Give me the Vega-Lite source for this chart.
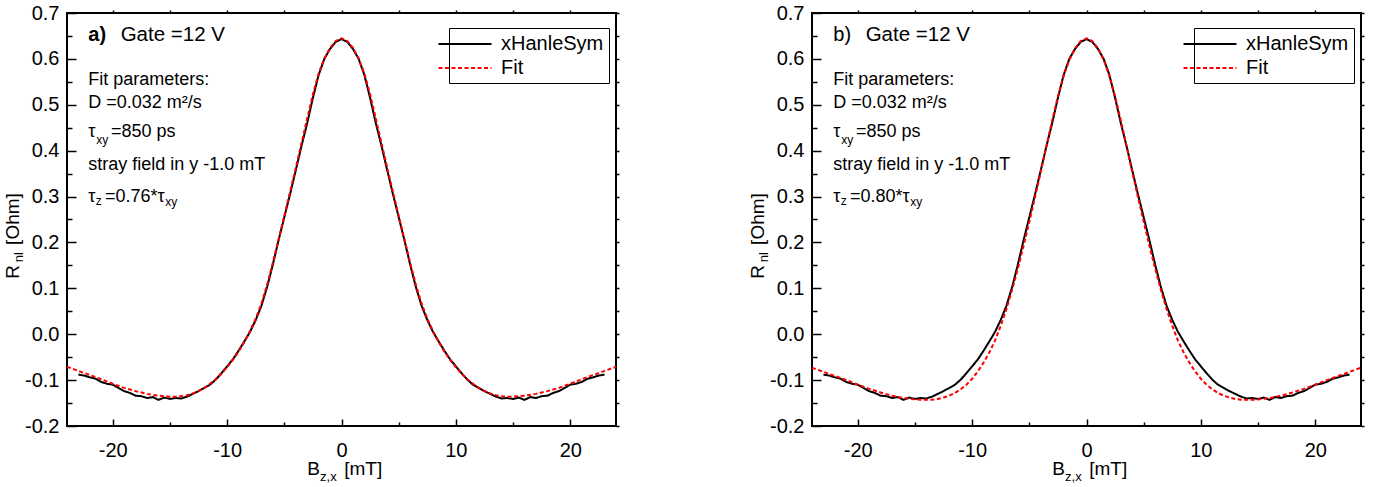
{
  "$schema": "https://vega.github.io/schema/vega-lite/v6.json",
  "padding": {"left": 2, "top": 2, "right": 5, "bottom": 5},
  "bounds": "flush",
  "spacing": 196,
  "config": {
    "font": "Liberation Sans",
    "view": {"stroke": "black", "strokeWidth": 2},
    "axis": {"grid": false, "domain": false, "labelFont": "Liberation Sans", "labelFontSize": 20, "labelColor": "black", "tickColor": "black", "tickWidth": 1.5, "labelFlush": false, "labelOverlap": false, "title": null},
    "text": {"font": "Liberation Sans", "color": "black"},
    "line": {"strokeWidth": 2}
  },
  "datasets": {
    "hanle": [
      {"B": -23, "R": -0.088, "series": "xHanleSym"}, {"B": -22.5, "R": -0.090, "series": "xHanleSym"}, {"B": -22, "R": -0.094, "series": "xHanleSym"}, {"B": -21.5, "R": -0.097, "series": "xHanleSym"}, {"B": -21, "R": -0.104, "series": "xHanleSym"}, {"B": -20.5, "R": -0.108, "series": "xHanleSym"}, {"B": -20, "R": -0.110, "series": "xHanleSym"}, {"B": -19.5, "R": -0.117, "series": "xHanleSym"}, {"B": -19, "R": -0.124, "series": "xHanleSym"}, {"B": -18.5, "R": -0.128, "series": "xHanleSym"}, {"B": -18, "R": -0.134, "series": "xHanleSym"}, {"B": -17.5, "R": -0.135, "series": "xHanleSym"}, {"B": -17, "R": -0.139, "series": "xHanleSym"}, {"B": -16.5, "R": -0.137, "series": "xHanleSym"}, {"B": -16, "R": -0.143, "series": "xHanleSym"}, {"B": -15.5, "R": -0.138, "series": "xHanleSym"}, {"B": -15, "R": -0.141, "series": "xHanleSym"}, {"B": -14.5, "R": -0.139, "series": "xHanleSym"}, {"B": -14, "R": -0.140, "series": "xHanleSym"}, {"B": -13.5, "R": -0.136, "series": "xHanleSym"}, {"B": -13, "R": -0.130, "series": "xHanleSym"}, {"B": -12.5, "R": -0.124, "series": "xHanleSym"}, {"B": -12, "R": -0.117, "series": "xHanleSym"}, {"B": -11.5, "R": -0.110, "series": "xHanleSym"}, {"B": -11, "R": -0.099, "series": "xHanleSym"}, {"B": -10.5, "R": -0.085, "series": "xHanleSym"}, {"B": -10, "R": -0.070, "series": "xHanleSym"}, {"B": -9.5, "R": -0.055, "series": "xHanleSym"}, {"B": -9, "R": -0.036, "series": "xHanleSym"}, {"B": -8.5, "R": -0.016, "series": "xHanleSym"}, {"B": -8, "R": 0.005, "series": "xHanleSym"}, {"B": -7.5, "R": 0.031, "series": "xHanleSym"}, {"B": -7, "R": 0.062, "series": "xHanleSym"}, {"B": -6.5, "R": 0.103, "series": "xHanleSym"}, {"B": -6, "R": 0.152, "series": "xHanleSym"}, {"B": -5.5, "R": 0.205, "series": "xHanleSym"}, {"B": -5, "R": 0.255, "series": "xHanleSym"}, {"B": -4.5, "R": 0.305, "series": "xHanleSym"}, {"B": -4, "R": 0.357, "series": "xHanleSym"}, {"B": -3.5, "R": 0.410, "series": "xHanleSym"}, {"B": -3, "R": 0.460, "series": "xHanleSym"}, {"B": -2.5, "R": 0.515, "series": "xHanleSym"}, {"B": -2, "R": 0.565, "series": "xHanleSym"}, {"B": -1.5, "R": 0.600, "series": "xHanleSym"}, {"B": -1, "R": 0.622, "series": "xHanleSym"}, {"B": -0.5, "R": 0.637, "series": "xHanleSym"}, {"B": 0, "R": 0.643, "series": "xHanleSym"},
      {"B": 0.5, "R": 0.637, "series": "xHanleSym"}, {"B": 1, "R": 0.622, "series": "xHanleSym"}, {"B": 1.5, "R": 0.600, "series": "xHanleSym"}, {"B": 2, "R": 0.565, "series": "xHanleSym"}, {"B": 2.5, "R": 0.515, "series": "xHanleSym"}, {"B": 3, "R": 0.460, "series": "xHanleSym"}, {"B": 3.5, "R": 0.410, "series": "xHanleSym"}, {"B": 4, "R": 0.357, "series": "xHanleSym"}, {"B": 4.5, "R": 0.305, "series": "xHanleSym"}, {"B": 5, "R": 0.255, "series": "xHanleSym"}, {"B": 5.5, "R": 0.205, "series": "xHanleSym"}, {"B": 6, "R": 0.152, "series": "xHanleSym"}, {"B": 6.5, "R": 0.103, "series": "xHanleSym"}, {"B": 7, "R": 0.062, "series": "xHanleSym"}, {"B": 7.5, "R": 0.031, "series": "xHanleSym"}, {"B": 8, "R": 0.005, "series": "xHanleSym"}, {"B": 8.5, "R": -0.016, "series": "xHanleSym"}, {"B": 9, "R": -0.036, "series": "xHanleSym"}, {"B": 9.5, "R": -0.055, "series": "xHanleSym"}, {"B": 10, "R": -0.070, "series": "xHanleSym"}, {"B": 10.5, "R": -0.085, "series": "xHanleSym"}, {"B": 11, "R": -0.099, "series": "xHanleSym"}, {"B": 11.5, "R": -0.110, "series": "xHanleSym"}, {"B": 12, "R": -0.117, "series": "xHanleSym"}, {"B": 12.5, "R": -0.124, "series": "xHanleSym"}, {"B": 13, "R": -0.130, "series": "xHanleSym"}, {"B": 13.5, "R": -0.136, "series": "xHanleSym"}, {"B": 14, "R": -0.140, "series": "xHanleSym"}, {"B": 14.5, "R": -0.139, "series": "xHanleSym"}, {"B": 15, "R": -0.141, "series": "xHanleSym"}, {"B": 15.5, "R": -0.138, "series": "xHanleSym"}, {"B": 16, "R": -0.143, "series": "xHanleSym"}, {"B": 16.5, "R": -0.137, "series": "xHanleSym"}, {"B": 17, "R": -0.139, "series": "xHanleSym"}, {"B": 17.5, "R": -0.135, "series": "xHanleSym"}, {"B": 18, "R": -0.134, "series": "xHanleSym"}, {"B": 18.5, "R": -0.128, "series": "xHanleSym"}, {"B": 19, "R": -0.124, "series": "xHanleSym"}, {"B": 19.5, "R": -0.117, "series": "xHanleSym"}, {"B": 20, "R": -0.110, "series": "xHanleSym"}, {"B": 20.5, "R": -0.108, "series": "xHanleSym"}, {"B": 21, "R": -0.104, "series": "xHanleSym"}, {"B": 21.5, "R": -0.097, "series": "xHanleSym"}, {"B": 22, "R": -0.094, "series": "xHanleSym"}, {"B": 22.5, "R": -0.090, "series": "xHanleSym"}, {"B": 23, "R": -0.088, "series": "xHanleSym"}
    ],
    "fitA": [
      {"B": -24, "R": -0.071, "series": "Fit"}, {"B": -23, "R": -0.080, "series": "Fit"}, {"B": -22, "R": -0.089, "series": "Fit"}, {"B": -21, "R": -0.098, "series": "Fit"}, {"B": -20, "R": -0.108, "series": "Fit"}, {"B": -19, "R": -0.117, "series": "Fit"}, {"B": -18, "R": -0.124, "series": "Fit"}, {"B": -17, "R": -0.130, "series": "Fit"}, {"B": -16, "R": -0.134, "series": "Fit"}, {"B": -15, "R": -0.136, "series": "Fit"}, {"B": -14.5, "R": -0.136, "series": "Fit"}, {"B": -14, "R": -0.135, "series": "Fit"}, {"B": -13.5, "R": -0.133, "series": "Fit"}, {"B": -13, "R": -0.129, "series": "Fit"}, {"B": -12.5, "R": -0.124, "series": "Fit"}, {"B": -12, "R": -0.117, "series": "Fit"}, {"B": -11.5, "R": -0.108, "series": "Fit"}, {"B": -11, "R": -0.098, "series": "Fit"}, {"B": -10.5, "R": -0.086, "series": "Fit"}, {"B": -10, "R": -0.072, "series": "Fit"}, {"B": -9.5, "R": -0.056, "series": "Fit"}, {"B": -9, "R": -0.038, "series": "Fit"}, {"B": -8.5, "R": -0.017, "series": "Fit"}, {"B": -8, "R": 0.007, "series": "Fit"}, {"B": -7.5, "R": 0.034, "series": "Fit"}, {"B": -7, "R": 0.067, "series": "Fit"}, {"B": -6.5, "R": 0.108, "series": "Fit"}, {"B": -6, "R": 0.156, "series": "Fit"}, {"B": -5.5, "R": 0.207, "series": "Fit"}, {"B": -5, "R": 0.258, "series": "Fit"}, {"B": -4.5, "R": 0.310, "series": "Fit"}, {"B": -4, "R": 0.362, "series": "Fit"}, {"B": -3.5, "R": 0.416, "series": "Fit"}, {"B": -3, "R": 0.470, "series": "Fit"}, {"B": -2.5, "R": 0.523, "series": "Fit"}, {"B": -2, "R": 0.568, "series": "Fit"}, {"B": -1.5, "R": 0.601, "series": "Fit"}, {"B": -1, "R": 0.624, "series": "Fit"}, {"B": -0.5, "R": 0.639, "series": "Fit"}, {"B": 0, "R": 0.645, "series": "Fit"},
      {"B": 0.5, "R": 0.639, "series": "Fit"}, {"B": 1, "R": 0.624, "series": "Fit"}, {"B": 1.5, "R": 0.601, "series": "Fit"}, {"B": 2, "R": 0.568, "series": "Fit"}, {"B": 2.5, "R": 0.523, "series": "Fit"}, {"B": 3, "R": 0.470, "series": "Fit"}, {"B": 3.5, "R": 0.416, "series": "Fit"}, {"B": 4, "R": 0.362, "series": "Fit"}, {"B": 4.5, "R": 0.310, "series": "Fit"}, {"B": 5, "R": 0.258, "series": "Fit"}, {"B": 5.5, "R": 0.207, "series": "Fit"}, {"B": 6, "R": 0.156, "series": "Fit"}, {"B": 6.5, "R": 0.108, "series": "Fit"}, {"B": 7, "R": 0.067, "series": "Fit"}, {"B": 7.5, "R": 0.034, "series": "Fit"}, {"B": 8, "R": 0.007, "series": "Fit"}, {"B": 8.5, "R": -0.017, "series": "Fit"}, {"B": 9, "R": -0.038, "series": "Fit"}, {"B": 9.5, "R": -0.056, "series": "Fit"}, {"B": 10, "R": -0.072, "series": "Fit"}, {"B": 10.5, "R": -0.086, "series": "Fit"}, {"B": 11, "R": -0.098, "series": "Fit"}, {"B": 11.5, "R": -0.108, "series": "Fit"}, {"B": 12, "R": -0.117, "series": "Fit"}, {"B": 12.5, "R": -0.124, "series": "Fit"}, {"B": 13, "R": -0.129, "series": "Fit"}, {"B": 13.5, "R": -0.133, "series": "Fit"}, {"B": 14, "R": -0.135, "series": "Fit"}, {"B": 14.5, "R": -0.136, "series": "Fit"}, {"B": 15, "R": -0.136, "series": "Fit"}, {"B": 16, "R": -0.134, "series": "Fit"}, {"B": 17, "R": -0.130, "series": "Fit"}, {"B": 18, "R": -0.124, "series": "Fit"}, {"B": 19, "R": -0.117, "series": "Fit"}, {"B": 20, "R": -0.108, "series": "Fit"}, {"B": 21, "R": -0.098, "series": "Fit"}, {"B": 22, "R": -0.089, "series": "Fit"}, {"B": 23, "R": -0.080, "series": "Fit"}, {"B": 24, "R": -0.071, "series": "Fit"}
    ],
    "fitB": [
      {"B": -24, "R": -0.073, "series": "Fit"}, {"B": -23, "R": -0.082, "series": "Fit"}, {"B": -22, "R": -0.091, "series": "Fit"}, {"B": -21, "R": -0.100, "series": "Fit"}, {"B": -20, "R": -0.110, "series": "Fit"}, {"B": -19, "R": -0.119, "series": "Fit"}, {"B": -18, "R": -0.127, "series": "Fit"}, {"B": -17, "R": -0.134, "series": "Fit"}, {"B": -16, "R": -0.139, "series": "Fit"}, {"B": -15, "R": -0.142, "series": "Fit"}, {"B": -14.5, "R": -0.143, "series": "Fit"}, {"B": -14, "R": -0.143, "series": "Fit"}, {"B": -13.5, "R": -0.143, "series": "Fit"}, {"B": -13, "R": -0.141, "series": "Fit"}, {"B": -12.5, "R": -0.138, "series": "Fit"}, {"B": -12, "R": -0.134, "series": "Fit"}, {"B": -11.5, "R": -0.128, "series": "Fit"}, {"B": -11, "R": -0.120, "series": "Fit"}, {"B": -10.5, "R": -0.110, "series": "Fit"}, {"B": -10, "R": -0.097, "series": "Fit"}, {"B": -9.5, "R": -0.081, "series": "Fit"}, {"B": -9, "R": -0.062, "series": "Fit"}, {"B": -8.5, "R": -0.040, "series": "Fit"}, {"B": -8, "R": -0.014, "series": "Fit"}, {"B": -7.5, "R": 0.018, "series": "Fit"}, {"B": -7, "R": 0.055, "series": "Fit"}, {"B": -6.5, "R": 0.097, "series": "Fit"}, {"B": -6, "R": 0.143, "series": "Fit"}, {"B": -5.5, "R": 0.193, "series": "Fit"}, {"B": -5, "R": 0.245, "series": "Fit"}, {"B": -4.5, "R": 0.299, "series": "Fit"}, {"B": -4, "R": 0.354, "series": "Fit"}, {"B": -3.5, "R": 0.410, "series": "Fit"}, {"B": -3, "R": 0.466, "series": "Fit"}, {"B": -2.5, "R": 0.518, "series": "Fit"}, {"B": -2, "R": 0.563, "series": "Fit"}, {"B": -1.5, "R": 0.598, "series": "Fit"}, {"B": -1, "R": 0.623, "series": "Fit"}, {"B": -0.5, "R": 0.639, "series": "Fit"}, {"B": 0, "R": 0.645, "series": "Fit"},
      {"B": 0.5, "R": 0.639, "series": "Fit"}, {"B": 1, "R": 0.623, "series": "Fit"}, {"B": 1.5, "R": 0.598, "series": "Fit"}, {"B": 2, "R": 0.563, "series": "Fit"}, {"B": 2.5, "R": 0.518, "series": "Fit"}, {"B": 3, "R": 0.466, "series": "Fit"}, {"B": 3.5, "R": 0.410, "series": "Fit"}, {"B": 4, "R": 0.354, "series": "Fit"}, {"B": 4.5, "R": 0.299, "series": "Fit"}, {"B": 5, "R": 0.245, "series": "Fit"}, {"B": 5.5, "R": 0.193, "series": "Fit"}, {"B": 6, "R": 0.143, "series": "Fit"}, {"B": 6.5, "R": 0.097, "series": "Fit"}, {"B": 7, "R": 0.055, "series": "Fit"}, {"B": 7.5, "R": 0.018, "series": "Fit"}, {"B": 8, "R": -0.014, "series": "Fit"}, {"B": 8.5, "R": -0.040, "series": "Fit"}, {"B": 9, "R": -0.062, "series": "Fit"}, {"B": 9.5, "R": -0.081, "series": "Fit"}, {"B": 10, "R": -0.097, "series": "Fit"}, {"B": 10.5, "R": -0.110, "series": "Fit"}, {"B": 11, "R": -0.120, "series": "Fit"}, {"B": 11.5, "R": -0.128, "series": "Fit"}, {"B": 12, "R": -0.134, "series": "Fit"}, {"B": 12.5, "R": -0.138, "series": "Fit"}, {"B": 13, "R": -0.141, "series": "Fit"}, {"B": 13.5, "R": -0.143, "series": "Fit"}, {"B": 14, "R": -0.143, "series": "Fit"}, {"B": 14.5, "R": -0.143, "series": "Fit"}, {"B": 15, "R": -0.142, "series": "Fit"}, {"B": 16, "R": -0.139, "series": "Fit"}, {"B": 17, "R": -0.134, "series": "Fit"}, {"B": 18, "R": -0.127, "series": "Fit"}, {"B": 19, "R": -0.119, "series": "Fit"}, {"B": 20, "R": -0.110, "series": "Fit"}, {"B": 21, "R": -0.100, "series": "Fit"}, {"B": 22, "R": -0.091, "series": "Fit"}, {"B": 23, "R": -0.082, "series": "Fit"}, {"B": 24, "R": -0.073, "series": "Fit"}
    ],
    "notesA": [
      {"text": "Fit parameters:", "B": -22.14, "R": 0.554},
      {"text": "D =0.032 m²/s", "B": -22.14, "R": 0.504},
      {"text": "τ", "B": -22.14, "R": 0.441},
      {"text": "=850 ps", "B": -20.15, "R": 0.441},
      {"text": "stray field in y -1.0 mT", "B": -22.14, "R": 0.369},
      {"text": "τ", "B": -22.14, "R": 0.299},
      {"text": "=0.76*τ", "B": -20.68, "R": 0.299}
    ],
    "notesB": [
      {"text": "Fit parameters:", "B": -22.14, "R": 0.554},
      {"text": "D =0.032 m²/s", "B": -22.14, "R": 0.504},
      {"text": "τ", "B": -22.14, "R": 0.441},
      {"text": "=850 ps", "B": -20.15, "R": 0.441},
      {"text": "stray field in y -1.0 mT", "B": -22.14, "R": 0.369},
      {"text": "τ", "B": -22.14, "R": 0.299},
      {"text": "=0.80*τ", "B": -20.68, "R": 0.299}
    ],
    "subs": [
      {"text": "xy", "B": -21.44, "R": 0.423},
      {"text": "z", "B": -21.49, "R": 0.290},
      {"text": "xy", "B": -15.4, "R": 0.288}
    ],
    "gate": [{"text": "Gate =12 V", "B": -19.31, "R": 0.652}],
    "tagA": [{"text": "a)", "B": -22.14, "R": 0.652}],
    "tagB": [{"text": "b)", "B": -22.14, "R": 0.652}],
    "xTitle": [
      {"text": "B", "B": -3.0, "R": -0.3065},
      {"text": "[mT]", "B": 0.24, "R": -0.3065}
    ],
    "xTitleSub": [{"text": "z,x", "B": -1.87, "R": -0.3196}],
    "yTitle": [
      {"text": "R", "B": -28.2, "R": 0.136},
      {"text": "[Ohm]", "B": -28.2, "R": 0.251}
    ],
    "yTitleSub": [{"text": "nl", "B": -27.85, "R": 0.168}]
  },
  "resolve": {
    "scale": {"color": "independent", "strokeDash": "independent"},
    "legend": {"color": "independent", "strokeDash": "independent"}
  },
  "hconcat": [
    {
      "width": 549,
      "height": 413,
      "resolve": {"axis": {"x": "independent", "y": "independent"}},
      "layer": [
        {
          "data": {"name": "hanle"},
          "mark": {"type": "line", "strokeWidth": 2},
          "encoding": {
            "x": {"field": "B", "type": "quantitative", "scale": {"domain": [-24, 24], "nice": false, "zero": false},
              "axis": {"orient": "bottom", "values": [-20, -15, -10, -5, 0, 5, 10, 15, 20], "labelExpr": "datum.value % 10 === 0 ? toString(datum.value) : ''", "tickSize": {"condition": {"test": "datum.value % 10 === 0", "value": -7}, "value": -4}, "labelPadding": 21}},
            "y": {"field": "R", "type": "quantitative", "scale": {"domain": [-0.2, 0.7], "nice": false, "zero": false},
              "axis": {"orient": "left", "values": [-0.2, -0.15, -0.1, -0.05, 0, 0.05, 0.1, 0.15, 0.2, 0.25, 0.3, 0.35, 0.4, 0.45, 0.5, 0.55, 0.6, 0.65, 0.7], "labelExpr": "abs(round(datum.value*100)) % 10 === 0 ? replace(format(datum.value, '.1f'), '\u2212', '-') : ''", "tickSize": {"condition": {"test": "abs(round(datum.value*100)) % 10 === 0", "value": -9}, "value": -5}, "labelPadding": 17}},
            "color": {"field": "series", "type": "nominal", "scale": {"domain": ["xHanleSym", "Fit"], "range": ["#000000", "#ff0000"]},
              "legend": {"title": null, "orient": "none", "legendX": 382, "legendY": 15, "symbolType": "M-2.65,0L2.65,0", "symbolSize": 400, "symbolStrokeWidth": 2, "labelFontSize": 20, "labelFont": "Liberation Sans", "labelColor": "black", "labelOffset": 25, "strokeColor": "black", "padding": 5, "rowPadding": 3, "labelLimit": 400}},
            "strokeDash": {"field": "series", "type": "nominal", "scale": {"domain": ["xHanleSym", "Fit"], "range": [[1, 0], [4, 2.5]]},
              "legend": {"title": null, "orient": "none", "legendX": 382, "legendY": 15, "symbolType": "M-2.65,0L2.65,0", "symbolSize": 400, "symbolStrokeWidth": 2, "labelFontSize": 20, "labelFont": "Liberation Sans", "labelColor": "black", "labelOffset": 25, "strokeColor": "black", "padding": 5, "rowPadding": 3, "labelLimit": 400}}
          }
        },
        {
          "data": {"name": "fitA"},
          "mark": {"type": "line", "strokeWidth": 2},
          "encoding": {
            "x": {"field": "B", "type": "quantitative", "scale": {"domain": [-24, 24], "nice": false, "zero": false},
              "axis": {"orient": "top", "values": [-20, -15, -10, -5, 0, 5, 10, 15, 20], "labels": false, "tickSize": 3}},
            "y": {"field": "R", "type": "quantitative", "scale": {"domain": [-0.2, 0.7], "nice": false, "zero": false},
              "axis": {"orient": "right", "values": [-0.2, -0.15, -0.1, -0.05, 0, 0.05, 0.1, 0.15, 0.2, 0.25, 0.3, 0.35, 0.4, 0.45, 0.5, 0.55, 0.6, 0.65, 0.7], "labels": false, "tickSize": 3}},
            "color": {"field": "series", "type": "nominal", "scale": {"domain": ["xHanleSym", "Fit"], "range": ["#000000", "#ff0000"]}},
            "strokeDash": {"field": "series", "type": "nominal", "scale": {"domain": ["xHanleSym", "Fit"], "range": [[1, 0], [4, 2.5]]}}
          }
        },
        {
          "data": {"name": "notesA"},
          "mark": {"type": "text", "align": "left", "baseline": "middle", "fontSize": 18},
          "encoding": {
            "x": {"field": "B", "type": "quantitative", "axis": null, "scale": {"domain": [-24, 24], "nice": false, "zero": false}},
            "y": {"field": "R", "type": "quantitative", "axis": null, "scale": {"domain": [-0.2, 0.7], "nice": false, "zero": false}},
            "text": {"field": "text"}
          }
        },
        {
          "data": {"name": "subs"},
          "mark": {"type": "text", "align": "left", "baseline": "middle", "fontSize": 12},
          "encoding": {
            "x": {"field": "B", "type": "quantitative", "axis": null, "scale": {"domain": [-24, 24], "nice": false, "zero": false}},
            "y": {"field": "R", "type": "quantitative", "axis": null, "scale": {"domain": [-0.2, 0.7], "nice": false, "zero": false}},
            "text": {"field": "text"}
          }
        },
        {
          "data": {"name": "gate"},
          "mark": {"type": "text", "align": "left", "baseline": "middle", "fontSize": 20.5},
          "encoding": {
            "x": {"field": "B", "type": "quantitative", "axis": null, "scale": {"domain": [-24, 24], "nice": false, "zero": false}},
            "y": {"field": "R", "type": "quantitative", "axis": null, "scale": {"domain": [-0.2, 0.7], "nice": false, "zero": false}},
            "text": {"field": "text"}
          }
        },
        {
          "data": {"name": "tagA"},
          "mark": {"type": "text", "align": "left", "baseline": "middle", "fontSize": 20, "fontWeight": "bold"},
          "encoding": {
            "x": {"field": "B", "type": "quantitative", "axis": null, "scale": {"domain": [-24, 24], "nice": false, "zero": false}},
            "y": {"field": "R", "type": "quantitative", "axis": null, "scale": {"domain": [-0.2, 0.7], "nice": false, "zero": false}},
            "text": {"field": "text"}
          }
        },
        {
          "data": {"name": "xTitle"},
          "mark": {"type": "text", "align": "left", "baseline": "alphabetic", "fontSize": 19},
          "encoding": {
            "x": {"field": "B", "type": "quantitative", "axis": null, "scale": {"domain": [-24, 24], "nice": false, "zero": false}},
            "y": {"field": "R", "type": "quantitative", "axis": null, "scale": {"domain": [-0.2, 0.7], "nice": false, "zero": false}},
            "text": {"field": "text"}
          }
        },
        {
          "data": {"name": "xTitleSub"},
          "mark": {"type": "text", "align": "left", "baseline": "alphabetic", "fontSize": 13},
          "encoding": {
            "x": {"field": "B", "type": "quantitative", "axis": null, "scale": {"domain": [-24, 24], "nice": false, "zero": false}},
            "y": {"field": "R", "type": "quantitative", "axis": null, "scale": {"domain": [-0.2, 0.7], "nice": false, "zero": false}},
            "text": {"field": "text"}
          }
        },
        {
          "data": {"name": "yTitle"},
          "mark": {"type": "text", "align": "center", "baseline": "alphabetic", "fontSize": 19, "angle": 270},
          "encoding": {
            "x": {"field": "B", "type": "quantitative", "axis": null, "scale": {"domain": [-24, 24], "nice": false, "zero": false}},
            "y": {"field": "R", "type": "quantitative", "axis": null, "scale": {"domain": [-0.2, 0.7], "nice": false, "zero": false}},
            "text": {"field": "text"}
          }
        },
        {
          "data": {"name": "yTitleSub"},
          "mark": {"type": "text", "align": "center", "baseline": "alphabetic", "fontSize": 13, "angle": 270},
          "encoding": {
            "x": {"field": "B", "type": "quantitative", "axis": null, "scale": {"domain": [-24, 24], "nice": false, "zero": false}},
            "y": {"field": "R", "type": "quantitative", "axis": null, "scale": {"domain": [-0.2, 0.7], "nice": false, "zero": false}},
            "text": {"field": "text"}
          }
        }
      ]
    },
    {
      "width": 549,
      "height": 413,
      "resolve": {"axis": {"x": "independent", "y": "independent"}},
      "layer": [
        {
          "data": {"name": "hanle"},
          "mark": {"type": "line", "strokeWidth": 2},
          "encoding": {
            "x": {"field": "B", "type": "quantitative", "scale": {"domain": [-24, 24], "nice": false, "zero": false},
              "axis": {"orient": "bottom", "values": [-20, -15, -10, -5, 0, 5, 10, 15, 20], "labelExpr": "datum.value % 10 === 0 ? toString(datum.value) : ''", "tickSize": {"condition": {"test": "datum.value % 10 === 0", "value": -7}, "value": -4}, "labelPadding": 21}},
            "y": {"field": "R", "type": "quantitative", "scale": {"domain": [-0.2, 0.7], "nice": false, "zero": false},
              "axis": {"orient": "left", "values": [-0.2, -0.15, -0.1, -0.05, 0, 0.05, 0.1, 0.15, 0.2, 0.25, 0.3, 0.35, 0.4, 0.45, 0.5, 0.55, 0.6, 0.65, 0.7], "labelExpr": "abs(round(datum.value*100)) % 10 === 0 ? replace(format(datum.value, '.1f'), '\u2212', '-') : ''", "tickSize": {"condition": {"test": "abs(round(datum.value*100)) % 10 === 0", "value": -9}, "value": -5}, "labelPadding": 17}},
            "color": {"field": "series", "type": "nominal", "scale": {"domain": ["xHanleSym", "Fit"], "range": ["#000000", "#ff0000"]},
              "legend": {"title": null, "orient": "none", "legendX": 382, "legendY": 15, "symbolType": "M-2.65,0L2.65,0", "symbolSize": 400, "symbolStrokeWidth": 2, "labelFontSize": 20, "labelFont": "Liberation Sans", "labelColor": "black", "labelOffset": 25, "strokeColor": "black", "padding": 5, "rowPadding": 3, "labelLimit": 400}},
            "strokeDash": {"field": "series", "type": "nominal", "scale": {"domain": ["xHanleSym", "Fit"], "range": [[1, 0], [4, 2.5]]},
              "legend": {"title": null, "orient": "none", "legendX": 382, "legendY": 15, "symbolType": "M-2.65,0L2.65,0", "symbolSize": 400, "symbolStrokeWidth": 2, "labelFontSize": 20, "labelFont": "Liberation Sans", "labelColor": "black", "labelOffset": 25, "strokeColor": "black", "padding": 5, "rowPadding": 3, "labelLimit": 400}}
          }
        },
        {
          "data": {"name": "fitB"},
          "mark": {"type": "line", "strokeWidth": 2},
          "encoding": {
            "x": {"field": "B", "type": "quantitative", "scale": {"domain": [-24, 24], "nice": false, "zero": false},
              "axis": {"orient": "top", "values": [-20, -15, -10, -5, 0, 5, 10, 15, 20], "labels": false, "tickSize": 3}},
            "y": {"field": "R", "type": "quantitative", "scale": {"domain": [-0.2, 0.7], "nice": false, "zero": false},
              "axis": {"orient": "right", "values": [-0.2, -0.15, -0.1, -0.05, 0, 0.05, 0.1, 0.15, 0.2, 0.25, 0.3, 0.35, 0.4, 0.45, 0.5, 0.55, 0.6, 0.65, 0.7], "labels": false, "tickSize": 3}},
            "color": {"field": "series", "type": "nominal", "scale": {"domain": ["xHanleSym", "Fit"], "range": ["#000000", "#ff0000"]}},
            "strokeDash": {"field": "series", "type": "nominal", "scale": {"domain": ["xHanleSym", "Fit"], "range": [[1, 0], [4, 2.5]]}}
          }
        },
        {
          "data": {"name": "notesB"},
          "mark": {"type": "text", "align": "left", "baseline": "middle", "fontSize": 18},
          "encoding": {
            "x": {"field": "B", "type": "quantitative", "axis": null, "scale": {"domain": [-24, 24], "nice": false, "zero": false}},
            "y": {"field": "R", "type": "quantitative", "axis": null, "scale": {"domain": [-0.2, 0.7], "nice": false, "zero": false}},
            "text": {"field": "text"}
          }
        },
        {
          "data": {"name": "subs"},
          "mark": {"type": "text", "align": "left", "baseline": "middle", "fontSize": 12},
          "encoding": {
            "x": {"field": "B", "type": "quantitative", "axis": null, "scale": {"domain": [-24, 24], "nice": false, "zero": false}},
            "y": {"field": "R", "type": "quantitative", "axis": null, "scale": {"domain": [-0.2, 0.7], "nice": false, "zero": false}},
            "text": {"field": "text"}
          }
        },
        {
          "data": {"name": "gate"},
          "mark": {"type": "text", "align": "left", "baseline": "middle", "fontSize": 20.5},
          "encoding": {
            "x": {"field": "B", "type": "quantitative", "axis": null, "scale": {"domain": [-24, 24], "nice": false, "zero": false}},
            "y": {"field": "R", "type": "quantitative", "axis": null, "scale": {"domain": [-0.2, 0.7], "nice": false, "zero": false}},
            "text": {"field": "text"}
          }
        },
        {
          "data": {"name": "tagB"},
          "mark": {"type": "text", "align": "left", "baseline": "middle", "fontSize": 20},
          "encoding": {
            "x": {"field": "B", "type": "quantitative", "axis": null, "scale": {"domain": [-24, 24], "nice": false, "zero": false}},
            "y": {"field": "R", "type": "quantitative", "axis": null, "scale": {"domain": [-0.2, 0.7], "nice": false, "zero": false}},
            "text": {"field": "text"}
          }
        },
        {
          "data": {"name": "xTitle"},
          "mark": {"type": "text", "align": "left", "baseline": "alphabetic", "fontSize": 19},
          "encoding": {
            "x": {"field": "B", "type": "quantitative", "axis": null, "scale": {"domain": [-24, 24], "nice": false, "zero": false}},
            "y": {"field": "R", "type": "quantitative", "axis": null, "scale": {"domain": [-0.2, 0.7], "nice": false, "zero": false}},
            "text": {"field": "text"}
          }
        },
        {
          "data": {"name": "xTitleSub"},
          "mark": {"type": "text", "align": "left", "baseline": "alphabetic", "fontSize": 13},
          "encoding": {
            "x": {"field": "B", "type": "quantitative", "axis": null, "scale": {"domain": [-24, 24], "nice": false, "zero": false}},
            "y": {"field": "R", "type": "quantitative", "axis": null, "scale": {"domain": [-0.2, 0.7], "nice": false, "zero": false}},
            "text": {"field": "text"}
          }
        },
        {
          "data": {"name": "yTitle"},
          "mark": {"type": "text", "align": "center", "baseline": "alphabetic", "fontSize": 19, "angle": 270},
          "encoding": {
            "x": {"field": "B", "type": "quantitative", "axis": null, "scale": {"domain": [-24, 24], "nice": false, "zero": false}},
            "y": {"field": "R", "type": "quantitative", "axis": null, "scale": {"domain": [-0.2, 0.7], "nice": false, "zero": false}},
            "text": {"field": "text"}
          }
        },
        {
          "data": {"name": "yTitleSub"},
          "mark": {"type": "text", "align": "center", "baseline": "alphabetic", "fontSize": 13, "angle": 270},
          "encoding": {
            "x": {"field": "B", "type": "quantitative", "axis": null, "scale": {"domain": [-24, 24], "nice": false, "zero": false}},
            "y": {"field": "R", "type": "quantitative", "axis": null, "scale": {"domain": [-0.2, 0.7], "nice": false, "zero": false}},
            "text": {"field": "text"}
          }
        }
      ]
    }
  ]
}
